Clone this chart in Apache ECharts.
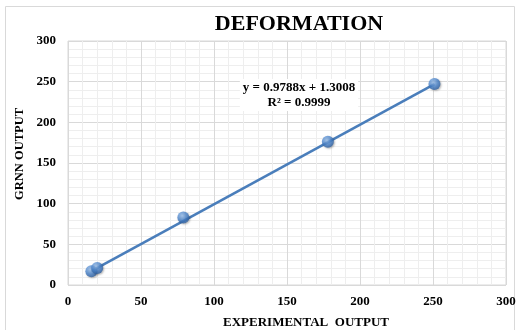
<!DOCTYPE html>
<html><head><meta charset="utf-8">
<script src="https://cdn.jsdelivr.net/npm/echarts@6/dist/echarts.min.js"></script>
<style>html,body{margin:0;padding:0;background:#fff}#c{width:522px;height:330px}</style>
</head><body><div id="c"></div>
<script>
const titleText = 'DEFORMATION';
const xName = 'EXPERIMENTAL  OUTPUT';
const yName = 'GRNN OUTPUT';
const equation = 'y = 0.9788x + 1.3008\nR² = 0.9999';
const expX = [16, 20, 79, 178, 251];
const grnnY = [17, 21, 83, 176, 247];
const trendX = [16, 251];
const trendY = [17, 247];
const ticks = [0, 50, 100, 150, 200, 250, 300];

const font = '"Liberation Serif", "Times New Roman", serif';
const pts = expX.map((x, i) => [x, grnnY[i]]);
const trend = trendX.map((x, i) => [x, trendY[i]]);

const chart = echarts.init(document.getElementById('c'), null, {renderer: 'canvas'});
const axisCommon = {
  type: 'value', min: ticks[0], max: ticks[ticks.length - 1], interval: 50,
  axisLine: {show: false}, axisTick: {show: false},
  splitLine: {show: true, lineStyle: {color: '#d9d9d9', width: 1}},
  minorTick: {show: false, splitNumber: 5},
  minorSplitLine: {show: true, lineStyle: {color: '#eeeeee', width: 1}},
  axisLabel: {fontFamily: font, fontWeight: 'bold', fontSize: 13, color: '#000'}
};
chart.setOption({
  animation: false,
  title: {text: titleText, left: 294, top: 8, textAlign: 'center',
    textStyle: {fontFamily: font, fontWeight: 'bold', fontSize: 22, color: '#000'}},
  grid: {left: 68, right: 16, top: 41, bottom: 45, show: true, borderColor: '#d9d9d9', borderWidth: 1},
  xAxis: Object.assign({}, axisCommon, {axisLabel: Object.assign({}, axisCommon.axisLabel, {margin: 10})}),
  yAxis: Object.assign({}, axisCommon, {axisLabel: Object.assign({}, axisCommon.axisLabel, {margin: 12})}),
  graphic: [
    {type: 'rect', shape: {x: 5.5, y: 6.5, width: 509, height: 330}, style: {fill: 'none', stroke: '#d9d9d9', lineWidth: 1}, silent: true, z: -1},
    {type: 'text', z: 10, style: {text: xName, x: 306, y: 323, textAlign: 'center', textVerticalAlign: 'middle', font: 'bold 13px ' + font, fill: '#000'}},
    {type: 'text', z: 10, style: {text: yName, x: 0, y: 0, textAlign: 'center', textVerticalAlign: 'middle', font: 'bold 12.5px ' + font, fill: '#000'}, x: 20, y: 154, rotation: Math.PI / 2},
    {type: 'text', z: 10, style: {text: equation, x: 299, y: 95, textAlign: 'center', textVerticalAlign: 'middle', font: 'bold 13px ' + font, fill: '#000', lineHeight: 15, backgroundColor: '#fff', padding: [1, 3]}}
  ],
  series: [
    {type: 'line', data: trend, symbol: 'none', lineStyle: {color: '#4a7ebb', width: 2.6}, z: 2},
    {type: 'scatter', data: pts, symbolSize: 12, z: 3,
      itemStyle: {color: new echarts.graphic.RadialGradient(0.4, 0.35, 0.7, [
        {offset: 0, color: '#9dc3f0'}, {offset: 0.55, color: '#4a84cc'}, {offset: 1, color: '#2a5a9a'}]),
        shadowColor: 'rgba(0,0,0,0.35)', shadowBlur: 2, shadowOffsetX: 1, shadowOffsetY: 1}}
  ]
});
</script></body></html>
